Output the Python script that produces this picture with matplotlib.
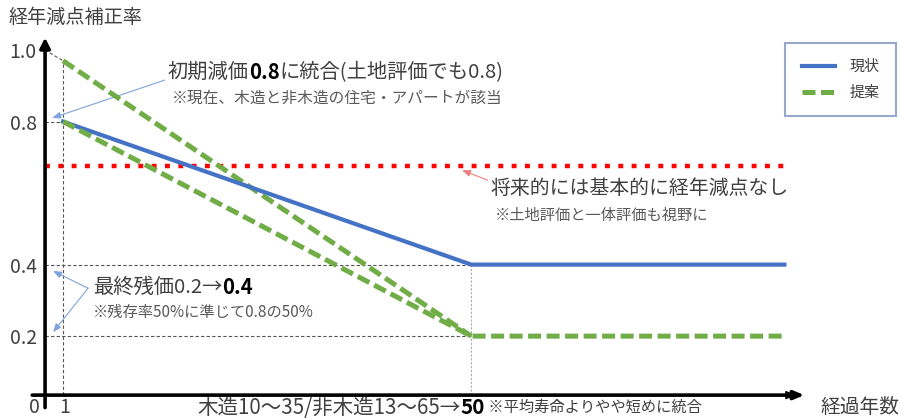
import matplotlib
matplotlib.use("Agg")
import matplotlib.pyplot as plt

plt.rcParams['font.family'] = ['Noto Sans CJK JP', 'DejaVu Sans']

# ---- data ----
current_x = [1, 50, 87.6]
current_y = [0.8, 0.4, 0.4]
prop1_x = [1, 50]
prop1_y = [0.97, 0.2]
prop2_x = [1, 50, 87.6]
prop2_y = [0.8, 0.2, 0.2]
future_x = [-1.16, 87.6]
future_y = [0.675, 0.675]
ytick_vals = [0.2, 0.4, 0.8, 1.0]
ytick_labels = ['0.2', '0.4', '0.8', '1.0']
legend_labels = ['現状', '提案']

BLUE = '#4472C4'
GREEN = '#70AD47'
RED = '#FF0000'
TXT = '#404040'
SUB = '#595959'

fig = plt.figure(figsize=(9.01, 4.18), dpi=100)
ax = fig.add_axes([0, 0, 1, 1])
ax.set_xlim(-6.57, 101.6)
ax.set_ylim(-0.029, 1.14)
for s in ax.spines.values():
    s.set_visible(False)
X0 = -1.16   # y-axis position
Y0 = 0.035   # x-axis position
ax.spines['left'].set_position(('data', X0))
ax.set_yticks(ytick_vals)
ax.set_yticklabels(ytick_labels, fontsize=14, color=TXT)
ax.tick_params(axis='y', length=0, pad=6)
ax.set_xticks([])
ax.patch.set_alpha(0)

# guide lines
g = dict(color='#555555', lw=0.8, ls=(0, (3, 2)), zorder=1)
ax.plot([X0, 1], [1.0, 0.97], **g)
ax.plot([1, 1], [Y0, 0.97], **g)
ax.plot([X0, 1], [0.8, 0.8], **g)
ax.plot([X0, 50], [0.4, 0.4], **g)
ax.plot([X0, 50], [0.2, 0.2], **g)
ax.plot([50, 50], [Y0, 0.4], color='#aaaaaa', lw=0.8, ls=(0, (2, 1.5)), zorder=1)

# series
ax.plot(future_x, future_y, color=RED, lw=3.2, ls=(0, (1.1, 1.9)), solid_capstyle='butt', dash_capstyle='butt', zorder=3)
ax.plot(prop1_x, prop1_y, color=GREEN, lw=3.6, ls=(0, (2.6, 1.1)), dash_capstyle='butt', zorder=4)
ax.plot(current_x, current_y, color=BLUE, lw=3.0, label=legend_labels[0], zorder=5)
ax.plot(prop2_x, prop2_y, color=GREEN, lw=3.6, ls=(0, (2.6, 1.1)), dash_capstyle='butt', label=legend_labels[1], zorder=6)

# axes arrows
ax.annotate('', xy=(X0, 1.035), xytext=(X0, 0.0), xycoords='data',
            arrowprops=dict(arrowstyle='-|>,head_length=0.6,head_width=0.3', lw=2.6, color='black', shrinkA=0, shrinkB=0), zorder=7)
ax.annotate('', xy=(90.0, Y0), xytext=(-2.7, Y0),
            arrowprops=dict(arrowstyle='-|>,head_length=0.6,head_width=0.25', lw=2.6, color='black', shrinkA=0, shrinkB=0), zorder=7)
ax.annotate('', xy=(89.0, Y0), xytext=(88.0, Y0),
            arrowprops=dict(arrowstyle='-|>,head_length=0.6,head_width=0.25', lw=1.0, color='black', shrinkA=0, shrinkB=0), zorder=8)

# axis texts
ax.text(-5.6, 1.09, '経年減点補正率', fontsize=13.8, color=TXT, va='center', ha='left')
ax.text(-2.4, 0.0, '0', fontsize=14, color=TXT, va='center', ha='center')
ax.text(1.2, 0.0, '1', fontsize=14, color=TXT, va='center', ha='center')
ax.text(91.9, 0.0, '経過年数', fontsize=14.2, color=TXT, va='center', ha='left')

fig.canvas.draw()
renderer = fig.canvas.get_renderer()


def runs(x, y, parts):
    """Draw consecutive text runs starting at data (x, y)."""
    px, py = ax.transData.transform((x, y))
    for txt, size, weight, color in parts:
        t = ax.text(px, py, txt, fontsize=size, fontweight=weight, color=color,
                    va='center', ha='left', transform=None)
        bb = t.get_window_extent(renderer)
        px = bb.x1


runs(17.1, 0.0, [('木造10〜35/非木造13〜65→', 14.8, 'normal', TXT),
                 ('50', 14.8, 'bold', 'black'),
                 (' ※平均寿命よりやや短めに統合', 11.0, 'normal', TXT)])

runs(13.6, 0.938, [('初期減価', 14.6, 'normal', TXT), ('0.8', 14.6, 'bold', 'black'),
                   ('に統合(土地評価でも0.8)', 14.6, 'normal', TXT)])
ax.text(14.1, 0.866, '※現在、木造と非木造の住宅・アパートが該当', fontsize=11.3, color=SUB, va='center', ha='left')

ax.text(52.3, 0.614, '将来的には基本的に経年減点なし', fontsize=14.3, color=TXT, va='center', ha='left')
ax.text(52.9, 0.538, '※土地評価と一体評価も視野に', fontsize=11.0, color=SUB, va='center', ha='left')

runs(4.6, 0.337, [('最終残価0.2→', 14.6, 'normal', TXT), ('0.4', 14.6, 'bold', 'black')])
ax.text(4.6, 0.267, '※残存率50%に準じて0.8の50%', fontsize=11.0, color=SUB, va='center', ha='left')

# annotation arrows
ap_blue = dict(arrowstyle='-|>,head_length=0.5,head_width=0.2', lw=0.8, color='#7FA3DC', shrinkA=0, shrinkB=0)
ax.annotate('', xy=(-0.3, 0.81), xytext=(13.2, 0.916), arrowprops=ap_blue)
ax.annotate('', xy=(-0.2, 0.382), xytext=(4.0, 0.334), arrowprops=ap_blue)
ax.annotate('', xy=(-0.2, 0.211), xytext=(4.0, 0.334), arrowprops=ap_blue)
ax.annotate('', xy=(48.9, 0.664), xytext=(52.0, 0.636),
            arrowprops=dict(arrowstyle='-|>,head_length=0.5,head_width=0.2', lw=0.8, color='#F08080', shrinkA=0, shrinkB=0))

# legend
leg = ax.legend(loc='upper left', bbox_to_anchor=(785 / 901, 1 - 43 / 418), bbox_transform=fig.transFigure,
                fontsize=10.8, frameon=True, fancybox=False, handlelength=2.2, handletextpad=1.0,
                borderpad=1.1, labelspacing=0.8, borderaxespad=0)
leg.get_frame().set_edgecolor('#7F93BF')
leg.get_frame().set_linewidth(1.5)
for t in leg.get_texts():
    t.set_color(TXT)

fig.savefig('out.png', dpi=100)
